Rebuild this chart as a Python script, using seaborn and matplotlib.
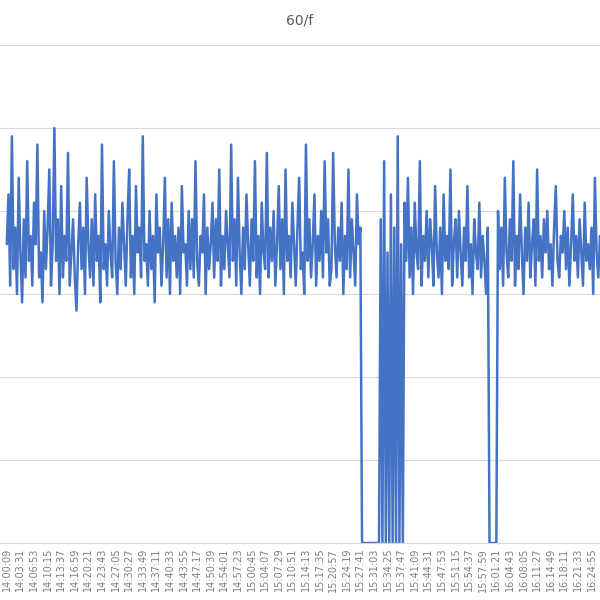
import matplotlib
matplotlib.use("Agg")
import matplotlib.pyplot as plt
import seaborn as sns
import pandas as pd

seg_a = [3.6,4.2,3.1,4.9,3.3,3.8,3.0,4.4,3.5,2.9,3.9,3.2,4.6,3.4,3.7,3.1,4.1,3.6,4.8,3.2,
         3.5,2.9,4.0,3.3,3.8,4.5,3.1,3.6,5.0,3.4,3.9,3.0,4.3,3.2,3.7,3.4,4.7,3.1,3.5,3.9,
         3.2,2.8,3.6,4.1,3.3,3.8,3.0,4.4,3.6,3.2,3.9,3.1,4.2,3.4,3.7,2.9,4.8,3.3,3.6,3.1,
         4.0,3.5,3.2,4.6,3.4,3.0,3.8,3.3,4.1,3.6,3.1,3.9,4.5,3.2,3.7,3.0,4.3,3.5,3.8,3.2,
         4.9,3.4,3.6,3.1,4.0,3.3,3.7,2.9,4.2,3.5,3.8,3.1,3.6,4.4,3.2,3.9,3.0,4.1,3.4,3.7,
         3.2,3.8,3.0,4.3,3.5,3.6,3.1,4.0,3.3,3.9,3.2,4.6,3.4,3.1,3.7,3.5,4.2,3.0,3.8,3.3,
         3.6,4.1,3.2,3.9,3.4,4.5,3.1,3.7,3.3,4.0,3.6,3.2,4.8,3.4,3.9,3.1,4.4,3.5,3.0,3.8,
         3.3,4.2,3.6,3.1,3.9,3.4,4.6,3.2,3.7,3.0,4.1,3.5,3.3,4.7,3.2,3.8,3.4,4.0,3.1,3.6,
         4.3,3.3,3.9,3.0,4.5,3.4,3.7,3.2,4.1,3.6,3.1,3.8,4.4,3.3,3.5,3.0,4.8,3.4,3.9,3.2,
         3.6,4.2,3.1,3.7,3.4,4.0,3.2,4.6,3.5,3.9,3.1,3.3,4.7,3.6,3.2,3.8,3.4,4.1,3.0,3.7,
         3.3,4.5,3.2,3.9,3.5,3.1,4.2,3.6,3.8]
seg_b = [0.0]*11
seg_c = [3.9,0.0,4.6,0.0,3.5,0.0,4.2,0.0,3.8,0.0,4.9,0.0,3.6,0.0,4.1]
seg_d = [3.4,4.4,3.2,3.8,3.0,4.1,3.5,3.3,4.6,3.1,3.7,3.4,4.0,3.2,3.9,3.6,3.1,4.3,3.5,3.2,
         3.8,3.0,4.2,3.4,3.7,3.3,4.5,3.1,3.6,3.9,3.2,4.0,3.5,3.1,3.8,3.4,4.3,3.2,3.6,3.0,
         3.9,3.5,3.3,4.1,3.2,3.7,3.4,3.0,3.8]
seg_e = [0.0]*5
seg_f = [4.0,3.3,3.8,3.1,4.4,3.5,3.2,3.9,3.4,4.6,3.1,3.7,3.3,4.2,3.5,3.0,3.8,3.4,4.1,3.2,
         3.6,3.9,3.1,4.5,3.4,3.7,3.2,3.9,3.5,4.0,3.3,3.6,3.1,3.8,4.3,3.4,3.2,3.7,3.5,4.0,
         3.3,3.8,3.1,3.6,4.2,3.4,3.7,3.2,3.9,3.5,3.1,4.1,3.4,3.6,3.3,3.8,3.0,4.4,3.5,3.2,
         3.7,3.4,3.9,3.2,3.6]
values = seg_a + seg_b + seg_c + seg_d + seg_e + seg_f

tick_labels = ["14:00:09","14:03:31","14:06:53","14:10:15","14:13:37","14:16:59","14:20:21",
               "14:23:43","14:27:05","14:30:27","14:33:49","14:37:11","14:40:33","14:43:55",
               "14:47:17","14:50:39","14:54:01","14:57:23","15:00:45","15:04:07","15:07:29",
               "15:10:51","15:14:13","15:17:35","15:20:57","15:24:19","15:27:41","15:31:03",
               "15:34:25","15:37:47","15:41:09","15:44:31","15:47:53","15:51:15","15:54:37",
               "15:57:59","16:01:21","16:04:43","16:08:05","16:11:27","16:14:49","16:18:11",
               "16:21:33","16:24:55"]

df = pd.DataFrame({"idx": range(len(values)), "v": values})
sns.set_style("white")
fig = plt.figure(figsize=(6, 6), dpi=100)
ax = fig.add_axes([0, 0.095, 1, 0.83])
sns.lineplot(data=df, x="idx", y="v", ax=ax, color="#4472C4", linewidth=1.8)
step = 8
ticks = [i * step for i in range(len(tick_labels))]
ax.set_xticks(ticks)
ax.set_xticklabels(tick_labels, rotation=90, fontsize=7, color="#7f7f7f")
ax.set_xlim(-4, 349)
ax.set_ylim(0, 6)
ax.set_yticks([1, 2, 3, 4, 5, 6])
ax.set_yticklabels([])
ax.tick_params(left=False, length=0)
ax.grid(axis="y", color="#d9d9d9", linewidth=0.8)
ax.set_xlabel(""); ax.set_ylabel("")
for s in ["left", "right", "top"]:
    ax.spines[s].set_visible(False)
ax.spines["bottom"].set_color("#d9d9d9")
fig.text(0.5, 0.965, "60/f", ha="center", va="center", fontsize=10, color="#595959")
fig.savefig("out.png", dpi=100)
